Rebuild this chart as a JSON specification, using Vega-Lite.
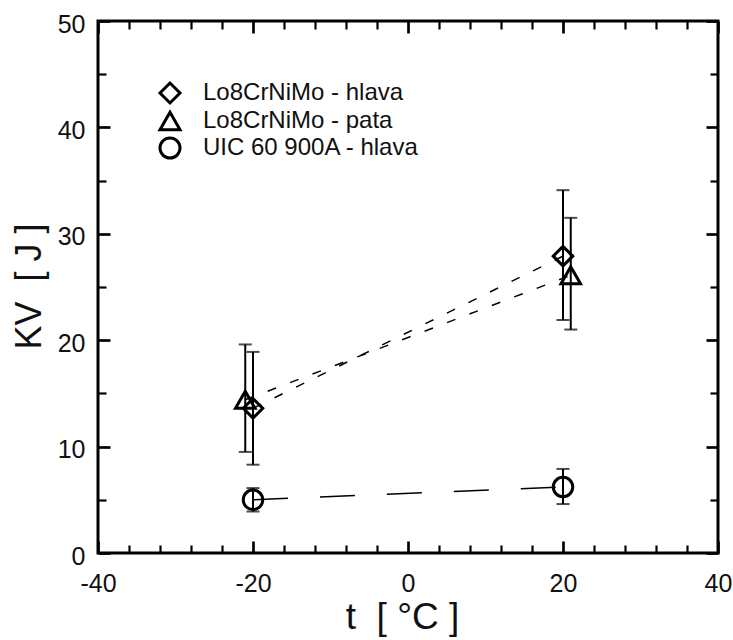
{
  "$schema": "https://vega.github.io/schema/vega-lite/v6.json",
  "width": 620,
  "height": 532,
  "autosize": {"type": "none"},
  "padding": {"left": 98, "top": 21, "right": 15, "bottom": 87},
  "background": "white",
  "config": {
    "view": {"stroke": "black", "strokeWidth": 3},
    "axis": {"grid": false, "domain": false}
  },
  "data": {
    "values": [
      {"series": "Lo8CrNiMo - hlava", "t": -20, "kv": 13.6, "lo": 8.3, "hi": 18.9},
      {"series": "Lo8CrNiMo - hlava", "t": 20, "kv": 27.9, "lo": 21.9, "hi": 34.1},
      {"series": "Lo8CrNiMo - pata", "t": -21, "kv": 14.4, "lo": 9.5, "hi": 19.6},
      {"series": "Lo8CrNiMo - pata", "t": 21, "kv": 26.1, "lo": 21.0, "hi": 31.5},
      {"series": "UIC 60 900A - hlava", "t": -20, "kv": 5.0, "lo": 3.9, "hi": 6.1},
      {"series": "UIC 60 900A - hlava", "t": 20, "kv": 6.2, "lo": 4.6, "hi": 7.9}
    ]
  },
  "resolve": {"axis": {"x": "independent", "y": "independent"}},
  "layer": [
    {
      "transform": [{"filter": "datum.series !== 'UIC 60 900A - hlava'"}],
      "mark": {"type": "line", "color": "black", "strokeWidth": 1.5, "strokeDash": [9, 15]},
      "encoding": {
        "x": {"field": "t", "type": "quantitative", "scale": {"domain": [-40, 40], "nice": false, "zero": false}, "axis": null},
        "y": {"field": "kv", "type": "quantitative", "scale": {"domain": [0, 50], "nice": false, "zero": false}, "axis": null},
        "detail": {"field": "series"}
      }
    },
    {
      "transform": [{"filter": "datum.series === 'UIC 60 900A - hlava'"}],
      "mark": {"type": "line", "color": "black", "strokeWidth": 1.5, "strokeDash": [35, 32]},
      "encoding": {
        "x": {"field": "t", "type": "quantitative", "scale": {"domain": [-40, 40], "nice": false, "zero": false}, "axis": null},
        "y": {"field": "kv", "type": "quantitative", "scale": {"domain": [0, 50], "nice": false, "zero": false}, "axis": null}
      }
    },
    {
      "mark": {"type": "rule", "color": "black", "strokeWidth": 2},
      "encoding": {
        "x": {"field": "t", "type": "quantitative", "scale": {"domain": [-40, 40], "nice": false, "zero": false}, "axis": null},
        "y": {"field": "lo", "type": "quantitative", "scale": {"domain": [0, 50], "nice": false, "zero": false}, "axis": null},
        "y2": {"field": "hi"}
      }
    },
    {
      "mark": {"type": "tick", "color": "black", "orient": "horizontal", "size": 13, "thickness": 2},
      "encoding": {
        "x": {"field": "t", "type": "quantitative", "scale": {"domain": [-40, 40], "nice": false, "zero": false}, "axis": null},
        "y": {"field": "lo", "type": "quantitative", "scale": {"domain": [0, 50], "nice": false, "zero": false}, "axis": null}
      }
    },
    {
      "mark": {"type": "tick", "color": "black", "orient": "horizontal", "size": 13, "thickness": 2},
      "encoding": {
        "x": {"field": "t", "type": "quantitative", "scale": {"domain": [-40, 40], "nice": false, "zero": false}, "axis": null},
        "y": {"field": "hi", "type": "quantitative", "scale": {"domain": [0, 50], "nice": false, "zero": false}, "axis": null}
      }
    },
    {
      "mark": {"type": "point", "filled": false, "color": "black", "strokeWidth": 3, "opacity": 1, "size": 380},
      "encoding": {
        "x": {"field": "t", "type": "quantitative", "scale": {"domain": [-40, 40], "nice": false, "zero": false},
          "axis": {"orient": "bottom", "values": [-40, -20, 0, 20, 40], "labelExpr": "'' + datum.value", "ticks": false, "tickSize": 0, "labelFont": "Liberation Sans", "labelFontSize": 25, "labelColor": "#111", "labelPadding": 18, "labelBaseline": "top", "labelFlush": false, "labelOverlap": false,
            "title": "t\u00a0 [ °C ]", "titleFont": "Liberation Sans", "titleFontSize": 37, "titleFontWeight": "normal", "titleColor": "#111", "titleX": 304, "titleY": 46, "titleAlign": "center", "titleBaseline": "top", "titleAnchor": null}},
        "y": {"field": "kv", "type": "quantitative", "scale": {"domain": [0, 50], "nice": false, "zero": false},
          "axis": {"orient": "left", "values": [0, 10, 20, 30, 40, 50], "ticks": false, "tickSize": 0, "labelFont": "Liberation Sans", "labelFontSize": 25, "labelColor": "#111", "labelPadding": 13, "labelOffset": 3, "labelFlush": false, "labelOverlap": false,
            "title": "KV\u00a0 [ J ]", "titleFont": "Liberation Sans", "titleFontSize": 36, "titleFontWeight": "normal", "titleColor": "#111", "titleX": -86, "titleY": 265, "titleAngle": -90, "titleAlign": "center", "titleBaseline": "top", "titleAnchor": null}},
        "shape": {"field": "series", "type": "nominal",
          "scale": {"domain": ["Lo8CrNiMo - hlava", "Lo8CrNiMo - pata", "UIC 60 900A - hlava"], "range": ["diamond", "triangle-up", "circle"]},
          "legend": {"orient": "none", "legendX": 60, "legendY": 60, "title": null, "labelFont": "Liberation Sans", "labelFontSize": 24, "labelColor": "#111", "labelLimit": 400, "symbolSize": 400, "symbolStrokeWidth": 3, "symbolStrokeColor": "black", "symbolFillColor": "transparent", "symbolType": "circle", "labelOffset": 21, "rowPadding": -7.5, "padding": 0}}
      }
    },
    {
      "mark": {"type": "point", "opacity": 0},
      "encoding": {
        "x": {"field": "t", "type": "quantitative", "scale": {"domain": [-40, 40], "nice": false, "zero": false},
          "axis": {"orient": "bottom", "values": [-40, -20, 0, 20, 40], "labels": false, "tickSize": -12, "tickWidth": 2.7, "tickColor": "black", "title": null}},
        "y": {"field": "kv", "type": "quantitative", "scale": {"domain": [0, 50], "nice": false, "zero": false},
          "axis": {"orient": "left", "values": [0, 10, 20, 30, 40, 50], "labels": false, "tickSize": -12, "tickWidth": 2.7, "tickColor": "black", "title": null}}
      }
    },
    {
      "mark": {"type": "point", "opacity": 0},
      "encoding": {
        "x": {"field": "t", "type": "quantitative", "scale": {"domain": [-40, 40], "nice": false, "zero": false},
          "axis": {"orient": "bottom", "values": [-36, -32, -28, -24, -16, -12, -8, -4, 4, 8, 12, 16, 24, 28, 32, 36], "labels": false, "tickSize": -8, "tickWidth": 2.2, "tickColor": "black", "title": null}},
        "y": {"field": "kv", "type": "quantitative", "scale": {"domain": [0, 50], "nice": false, "zero": false},
          "axis": {"orient": "left", "values": [5, 15, 25, 35, 45], "labels": false, "tickSize": -8, "tickWidth": 2.2, "tickColor": "black", "title": null}}
      }
    },
    {
      "mark": {"type": "point", "opacity": 0},
      "encoding": {
        "x": {"field": "t", "type": "quantitative", "scale": {"domain": [-40, 40], "nice": false, "zero": false},
          "axis": {"orient": "top", "values": [-40, -20, 0, 20, 40], "labels": false, "tickSize": -12, "tickWidth": 2.7, "tickColor": "black", "title": null}},
        "y": {"field": "kv", "type": "quantitative", "scale": {"domain": [0, 50], "nice": false, "zero": false},
          "axis": {"orient": "right", "values": [0, 10, 20, 30, 40, 50], "labels": false, "tickSize": -12, "tickWidth": 2.7, "tickColor": "black", "title": null}}
      }
    },
    {
      "mark": {"type": "point", "opacity": 0},
      "encoding": {
        "x": {"field": "t", "type": "quantitative", "scale": {"domain": [-40, 40], "nice": false, "zero": false},
          "axis": {"orient": "top", "values": [-36, -32, -28, -24, -16, -12, -8, -4, 4, 8, 12, 16, 24, 28, 32, 36], "labels": false, "tickSize": -8, "tickWidth": 2.2, "tickColor": "black", "title": null}},
        "y": {"field": "kv", "type": "quantitative", "scale": {"domain": [0, 50], "nice": false, "zero": false},
          "axis": {"orient": "right", "values": [5, 15, 25, 35, 45], "labels": false, "tickSize": -8, "tickWidth": 2.2, "tickColor": "black", "title": null}}
      }
    }
  ]
}
